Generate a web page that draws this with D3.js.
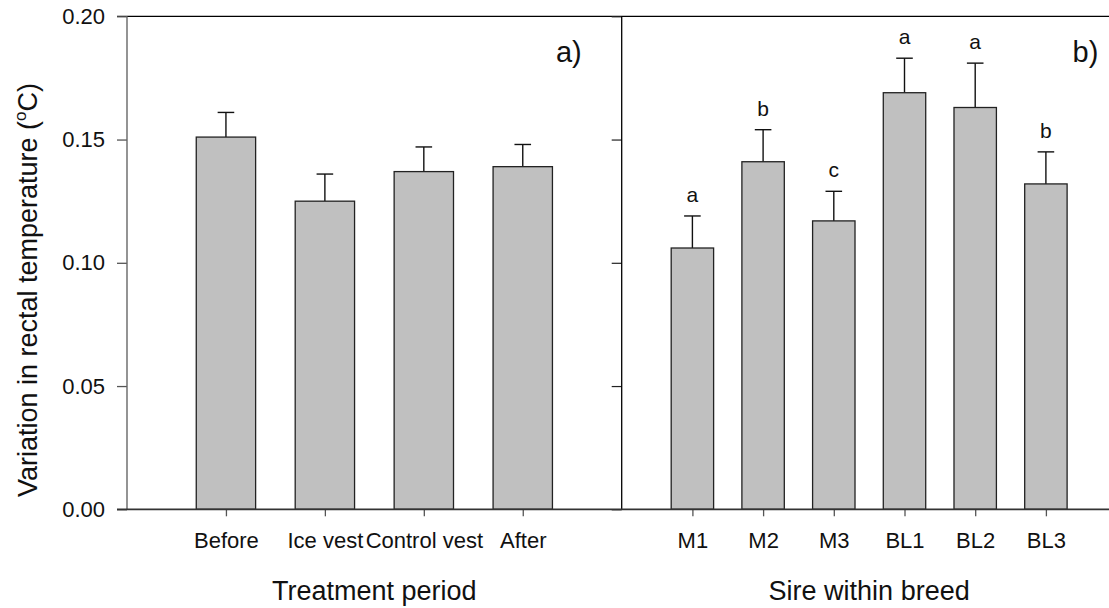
<!DOCTYPE html>
<html>
<head>
<meta charset="utf-8">
<script src="https://cdn.jsdelivr.net/npm/d3@7"></script>
<style>
  html, body { margin: 0; padding: 0; background: #fff; }
  svg { display: block; font-family: "Liberation Sans", Arial, Helvetica, sans-serif; }
</style>
</head>
<body>
<svg id="chart" width="1109" height="608"></svg>
<script>
// Panel a: treatment periods
const periods = ["Before", "Ice vest", "Control vest", "After"];
const periodMeans = [0.151, 0.125, 0.137, 0.139];
const periodSE = [0.010, 0.011, 0.010, 0.009];

// Panel b: sires within breed
const sires = ["M1", "M2", "M3", "BL1", "BL2", "BL3"];
const sireMeans = [0.106, 0.141, 0.117, 0.169, 0.163, 0.132];
const sireSE = [0.013, 0.013, 0.012, 0.014, 0.018, 0.013];
const sireGroups = ["a", "b", "c", "a", "a", "b"];

const yTicks = [0.00, 0.05, 0.10, 0.15, 0.20];

const svg = d3.select("#chart");

const y = d3.scaleLinear().domain([0, 0.2]).range([509.3, 16.3]);
const xA = d3.scaleLinear().domain([0, 5]).range([127, 621.7]);
const xB = d3.scaleLinear().domain([0, 7]).range([621.7, 1116.6]);

const barFrac = 0.6;
const capHalf = 8.3;

function drawBars(g, x, names, means, se) {
  const step = x(1) - x(0);
  const bw = step * barFrac;
  const data = names.map((n, i) => ({ n, m: means[i], s: se[i], pos: i + 1 }));

  // upper error bars
  g.selectAll("line.err").data(data).join("line")
    .attr("x1", d => x(d.pos)).attr("x2", d => x(d.pos))
    .attr("y1", d => y(d.m)).attr("y2", d => y(d.m + d.s))
    .attr("stroke", "#111").attr("stroke-width", 1.4);
  g.selectAll("line.cap").data(data).join("line")
    .attr("x1", d => x(d.pos) - capHalf).attr("x2", d => x(d.pos) + capHalf)
    .attr("y1", d => y(d.m + d.s)).attr("y2", d => y(d.m + d.s))
    .attr("stroke", "#111").attr("stroke-width", 1.4);

  g.selectAll("rect").data(data).join("rect")
    .attr("x", d => x(d.pos) - bw / 2)
    .attr("width", bw)
    .attr("y", d => y(d.m))
    .attr("height", d => y(0) - y(d.m))
    .attr("fill", "#c0c0c0")
    .attr("stroke", "#222")
    .attr("stroke-width", 1.3);
  return data;
}

// frame lines
svg.append("line").attr("x1", 117).attr("x2", 1109).attr("y1", y(0.2)).attr("y2", y(0.2))
  .attr("stroke", "#000").attr("stroke-width", 1.2);

// panel a y axis (labelled)
const yAxisA = svg.append("g").attr("transform", `translate(${xA(0)},0)`)
  .call(d3.axisLeft(y).tickValues(yTicks).tickFormat(d3.format(".2f")).tickSize(10).tickPadding(12));
yAxisA.select(".domain").remove();
yAxisA.selectAll(".tick line").attr("stroke", "#555").attr("stroke-width", 1.3);
yAxisA.selectAll(".tick text").attr("font-size", 22).attr("fill", "#111")
  .attr("font-family", "'Liberation Sans', Arial, sans-serif");
svg.append("line").attr("x1", xA(0)).attr("x2", xA(0)).attr("y1", y(0)).attr("y2", y(0.2))
  .attr("stroke", "#666").attr("stroke-width", 1.4);

// panel b y axis (ticks only)
const yAxisB = svg.append("g").attr("transform", `translate(${xB(0)},0)`)
  .call(d3.axisLeft(y).tickValues(yTicks).tickFormat("").tickSize(10));
yAxisB.select(".domain").remove();
yAxisB.selectAll(".tick line").attr("stroke", "#222").attr("stroke-width", 1.2);
svg.append("line").attr("x1", xB(0)).attr("x2", xB(0)).attr("y1", y(0)).attr("y2", y(0.2))
  .attr("stroke", "#000").attr("stroke-width", 1.3);

// bars
const gA = svg.append("g");
drawBars(gA, xA, periods, periodMeans, periodSE);
const gB = svg.append("g");
const dataB = drawBars(gB, xB, sires, sireMeans, sireSE);

// group letters above panel b bars
gB.selectAll("text.grp").data(dataB).join("text")
  .attr("class", "grp")
  .attr("x", d => xB(d.pos))
  .attr("y", (d, i) => y(d.m + d.s) - 14)
  .attr("text-anchor", "middle")
  .attr("font-size", 21)
  .attr("fill", "#111")
  .text((d, i) => sireGroups[i]);

// x axes
function xAxis(x, names) {
  const g = svg.append("g").attr("transform", `translate(0,${y(0)})`)
    .call(d3.axisBottom(x).tickValues(names.map((_, i) => i + 1))
      .tickFormat((d, i) => names[i]).tickSize(7).tickPadding(16));
  g.select(".domain").remove();
  g.selectAll(".tick line").attr("stroke", "#555").attr("stroke-width", 1.3);
  g.selectAll(".tick text").attr("font-size", 22).attr("fill", "#111")
    .attr("font-family", "'Liberation Sans', Arial, sans-serif");
}
xAxis(xA, periods);
xAxis(xB, sires);

// baseline
svg.append("line").attr("x1", 117).attr("x2", 1109).attr("y1", y(0)).attr("y2", y(0))
  .attr("stroke", "#333").attr("stroke-width", 1.7);

// axis titles
svg.append("text").attr("x", (xA(0) + xA(5)) / 2).attr("y", 600)
  .attr("text-anchor", "middle").attr("font-size", 27).attr("fill", "#111")
  .text("Treatment period");
svg.append("text").attr("x", (xB(0) + xB(7)) / 2).attr("y", 600)
  .attr("text-anchor", "middle").attr("font-size", 27).attr("fill", "#111")
  .text("Sire within breed");

const yt = svg.append("text")
  .attr("transform", "translate(37,290) rotate(-90)")
  .attr("text-anchor", "middle").attr("font-size", 27).attr("fill", "#111");
yt.append("tspan").text("Variation in rectal temperature (");
yt.append("tspan").attr("font-size", 17).attr("dy", -11).text("o");
yt.append("tspan").attr("dy", 11).text("C)");

// panel labels
svg.append("text").attr("x", 581.7).attr("y", 62).attr("text-anchor", "end")
  .attr("font-size", 29).attr("fill", "#111").text("a)");
svg.append("text").attr("x", 1098.3).attr("y", 62).attr("text-anchor", "end")
  .attr("font-size", 29).attr("fill", "#111").text("b)");
</script>
</body>
</html>
